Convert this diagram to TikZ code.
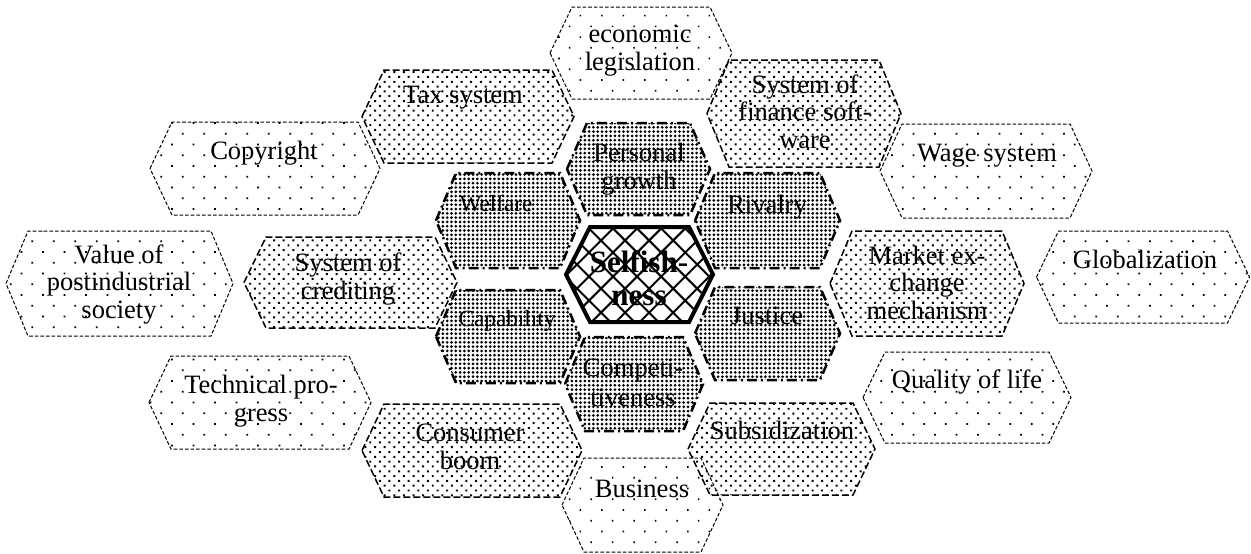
\documentclass[tikz,border=0pt]{standalone}
\usepackage{fontspec}
\setmainfont{Liberation Serif}
\usetikzlibrary{patterns.meta}

\newcommand{\hexshape}[6]{% style, cx, cy, half-width, half-height, inset
  \path[#1] ({#2-#4},#3) -- ({#2-#4+#6},{#3-#5}) -- ({#2+#4-#6},{#3-#5})
    -- ({#2+#4},#3) -- ({#2+#4-#6},{#3+#5}) -- ({#2-#4+#6},{#3+#5}) -- cycle;}

\tikzset{
  outerhex/.style={draw, line width=0.5pt, dash pattern=on 1.8pt off 1pt,
    pattern={Dots[distance=7.6pt, radius=0.6pt, angle=45]}},
  midhex/.style={draw, line width=0.75pt, dash pattern=on 3.5pt off 1.5pt,
    pattern={Dots[distance=3.4pt, radius=0.7pt, angle=45]}},
  innerhex/.style={draw, line width=1.25pt, dash pattern=on 5pt off 2pt on 1pt off 2pt,
    pattern={Dots[distance=2.15pt, radius=0.75pt]}},
  corehex/.style={draw, line width=2pt,
    pattern={Hatch[distance=8.5pt, angle=45, line width=1pt]}},
  lbl/.style={font=\fontsize{13.25}{13.75}\selectfont, align=center, inner sep=0pt, anchor=base},
  smalllbl/.style={lbl, font=\fontsize{11.6}{13}\selectfont},
  corelbl/.style={lbl, font=\fontsize{15.5}{16.5}\selectfont\bfseries},
}

\begin{document}
\begin{tikzpicture}[x=0.5pt, y=-0.5pt]
\useasboundingbox (0,0) rectangle (1251,553);

% outer ring (sparse dots)
\hexshape{outerhex}{641}{53}{91}{46}{22}
\hexshape{outerhex}{265}{168.5}{115}{46.5}{22}
\hexshape{outerhex}{986}{171}{106}{47}{22}
\hexshape{outerhex}{119.5}{283.5}{113.5}{52.5}{22}
\hexshape{outerhex}{1143}{277}{106.5}{46}{22}
\hexshape{outerhex}{260}{402.5}{111}{46.5}{22}
\hexshape{outerhex}{967}{397.5}{104}{45.5}{22}
\hexshape{outerhex}{642.5}{505}{80.5}{47}{22}

% middle ring (medium dots)
\hexshape{midhex}{468}{116.5}{106}{46.5}{22}
\hexshape{midhex}{804}{113.5}{97}{53.5}{22}
\hexshape{midhex}{350.5}{282.5}{106.5}{45.5}{22}
\hexshape{midhex}{927}{283.5}{97}{52.5}{22}
\hexshape{midhex}{472}{450.5}{110}{46.5}{22}
\hexshape{midhex}{781.5}{449}{93.5}{46}{22}

% inner ring (dense dots)
\hexshape{innerhex}{638.5}{169}{71.5}{46}{20}
\hexshape{innerhex}{508}{220.5}{72}{47.5}{20}
\hexshape{innerhex}{767.5}{220.5}{72.5}{47.5}{20}
\hexshape{innerhex}{508}{336.5}{72}{46.5}{20}
\hexshape{innerhex}{767.5}{333.5}{72.5}{46.5}{20}
\hexshape{innerhex}{634}{384}{69}{47}{20}

% core
\hexshape{corehex}{639.5}{274.5}{73.5}{47.5}{24}

% labels (anchor = baseline of the last line)
\node[lbl] (econ) at (640,70) {economic\\legislation};
\node[lbl] (tax) at (463,103) {Tax system};
\node[lbl] (fin) at (805,148) {System of\\finance soft-\\ware};
\node[lbl] (copy) at (264,159) {Copyright};
\node[lbl] (wage) at (987,161) {Wage system};
\node[lbl] (pers) at (639,189) {Personal\\growth};
\node[smalllbl] (welf) at (496,211) {Welfare};
\node[lbl] (riv) at (767,213) {Rivalry};
\node[corelbl] (self) at (639,305) {Selfish-\\ness};
\node[lbl] (val) at (119,318) {Value of\\postindustrial\\society};
\node[lbl] (cred) at (348,299) {System of\\crediting};
\node[smalllbl] (cap) at (507,326) {Capability};
\node[lbl] (just) at (767,324) {Justice};
\node[lbl] (mkt) at (927,319) {Market ex-\\change\\mechanism};
\node[lbl] (glob) at (1145,268) {Globalization};
\node[lbl] (tech) at (261,421) {Technical pro-\\gress};
\node[lbl] (cons) at (470,469) {Consumer\\boom};
\node[lbl] (qual) at (967,388) {Quality of life};
\node[lbl] (subs) at (782,439) {Subsidization};
\node[lbl] (bus) at (642,497) {Business};
\node[lbl, font=\fontsize{13.25}{15}\selectfont] (comp) at (633,406) {Competi-\\tiveness};
\end{tikzpicture}
\end{document}
